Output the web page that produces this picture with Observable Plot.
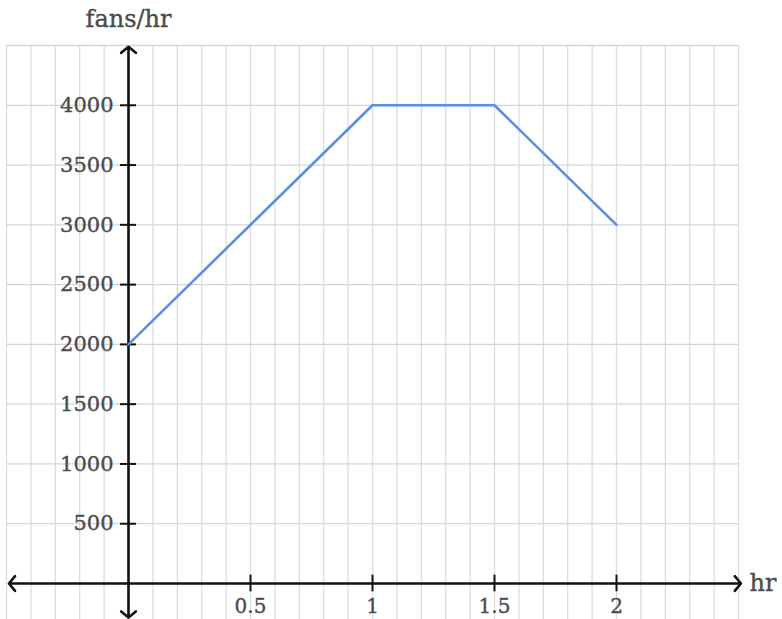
<!DOCTYPE html>
<html>
<head>
<meta charset="utf-8">
<script src="https://cdn.jsdelivr.net/npm/d3@7"></script>
<script src="https://cdn.jsdelivr.net/npm/@observablehq/plot@0.6"></script>
<style>
  html, body { margin: 0; padding: 0; background: #fff; }
  #chart svg { display: block; }
</style>
</head>
<body>
<div id="chart"></div>
<script>
// Data
const hours = [0, 1, 1.5, 2];
const fansPerHour = [2000, 4000, 4000, 3000];
const xTickValues = [0.5, 1, 1.5, 2];
const xTickLabels = ["0.5", "1", "1.5", "2"];
const yTickValues = [500, 1000, 1500, 2000, 2500, 3000, 3500, 4000];
const yTickLabels = ["500", "1000", "1500", "2000", "2500", "3000", "3500", "4000"];
const gridX = d3.range(-5, 26).map(i => i / 10);
const gridY = [500, 1000, 1500, 2000, 2500, 3000, 3500, 4000, 4500];

const series = hours.map((h, i) => ({ x: h, y: fansPerHour[i] }));
const xTicks = xTickValues.map((v, i) => ({ v, label: xTickLabels[i] }));
const yTicks = yTickValues.map((v, i) => ({ v, label: yTickLabels[i] }));

const font = "'DejaVu Serif', 'Liberation Serif', serif";
const textColor = "#4a4a4a";
const textStyle = { fontFamily: font, fill: textColor, stroke: textColor, strokeWidth: 0.35 };

const chart = Plot.plot({
  width: 782,
  height: 619,
  marginTop: 0, marginRight: 0, marginBottom: 0, marginLeft: 0,
  x: { domain: [-0.5, 2.5], range: [6, 738] },
  y: { domain: [0, 4500], range: [583, 45] },
  axis: null,
  style: { fontFamily: font, background: "#fff" },
  marks: [
    // grid
    Plot.ruleX(gridX, { x: d => d, y1: 4500, y2: -400, stroke: "#d9dee3", strokeWidth: 1.3 }),
    Plot.ruleY(gridY, { y: d => d, x1: -0.5, x2: 2.5, stroke: "#d3d6d9", strokeWidth: 1.3 }),
    // axes with arrow heads
    Plot.arrow([{}], { x1: 0, y1: 0, x2: 2.51, y2: 0, stroke: "#111", strokeWidth: 2.6, headLength: 5.5, headAngle: 100 }),
    Plot.arrow([{}], { x1: 0, y1: 0, x2: -0.49, y2: 0, stroke: "#111", strokeWidth: 2.6, headLength: 5.5, headAngle: 100 }),
    Plot.arrow([{}], { x1: 0, y1: 0, x2: 0, y2: 4490, stroke: "#111", strokeWidth: 2.6, headLength: 5.5, headAngle: 100 }),
    Plot.arrow([{}], { x1: 0, y1: 0, x2: 0, y2: -285, stroke: "#111", strokeWidth: 2.6, headLength: 5.5, headAngle: 100 }),
    // tick marks
    Plot.ruleY(yTicks, { y: "v", x1: -0.033, x2: 0.033, stroke: "#111", strokeWidth: 2 }),
    Plot.ruleX(xTicks, { x: "v", y1: -70, y2: 70, stroke: "#111", strokeWidth: 2 }),
    // tick labels
    Plot.text(yTicks, { x: 0, y: "v", text: "label", dx: -15, textAnchor: "end", fontSize: 21, ...textStyle }),
    Plot.text(xTicks, { x: "v", y: 0, text: "label", dy: 23, textAnchor: "middle", fontSize: 20, ...textStyle }),
    // axis titles
    Plot.text(["fans/hr"], { x: 0, y: 4500, text: d => d, dy: -26, textAnchor: "middle", fontSize: 24, ...textStyle }),
    Plot.text(["hr"], { x: 2.5, y: 0, text: d => d, dx: 11, textAnchor: "start", fontSize: 24, ...textStyle }),
    // data line
    Plot.line(series, { x: "x", y: "y", stroke: "#5b8fe0", strokeWidth: 2.6 })
  ]
});
document.getElementById("chart").appendChild(chart);
</script>
</body>
</html>
